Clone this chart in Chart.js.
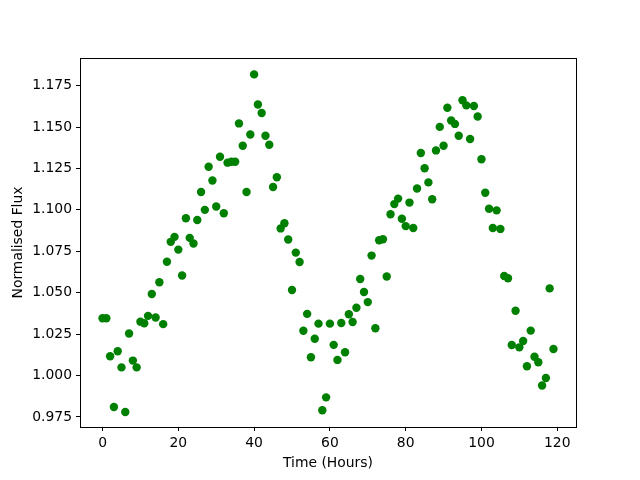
<!DOCTYPE html>
<html>
<head>
<meta charset="utf-8">
<script src="https://cdn.jsdelivr.net/npm/chart.js@4"></script>
<style>
    html, body { margin: 0; padding: 0; background: #fff; }
    #wrap { width: 640px; height: 480px; }
</style>
</head>
<body>
<div id="wrap"><canvas id="fluxChart" width="640" height="480"></canvas></div>
<script>
// Data (jam 0..119)
const hours = Array.from({ length: 120 }, (_, i) => i);
const flux = [
    1.0346, 1.0346, 1.0116, 0.9810, 1.0146, 1.0049, 0.9780, 1.0254, 1.0090, 1.0049,
    1.0325, 1.0315, 1.0360, 1.0492, 1.0350, 1.0563, 1.0310, 1.0687, 1.0807, 1.0837,
    1.0760, 1.0604, 1.0949, 1.0831, 1.0797, 1.0939, 1.1108, 1.1000, 1.1260, 1.1177,
    1.1020, 1.1321, 1.0980, 1.1285, 1.1291, 1.1291, 1.1522, 1.1387, 1.1108, 1.1455,
    1.1818, 1.1636, 1.1585, 1.1448, 1.1393, 1.1138, 1.1197, 1.0888, 1.0919, 1.0821,
    1.0516, 1.0742, 1.0685, 1.0270, 1.0372, 1.0110, 1.0222, 1.0313, 0.9790, 0.9868,
    1.0313, 1.0185, 1.0094, 1.0317, 1.0140, 1.0370, 1.0323, 1.0409, 1.0583, 1.0504,
    1.0443, 1.0724, 1.0285, 1.0817, 1.0823, 1.0598, 1.0974, 1.1035, 1.1068, 1.0946,
    1.0902, 1.1044, 1.0891, 1.1129, 1.1343, 1.1251, 1.1166, 1.1064, 1.1359, 1.1501,
    1.1387, 1.1617, 1.1540, 1.1519, 1.1448, 1.1662, 1.1631, 1.1428, 1.1627, 1.1564,
    1.1306, 1.1103, 1.1007, 1.0891, 1.0997, 1.0885, 1.0601, 1.0587, 1.0184, 1.0391,
    1.0170, 1.0208, 1.0056, 1.0271, 1.0113, 1.0080, 0.9940, 0.9985, 1.0526, 1.0160
];

// Label sumbu
const xTicks = [0, 20, 40, 60, 80, 100, 120];
const yTicks = [0.975, 1.000, 1.025, 1.050, 1.075, 1.100, 1.125, 1.150, 1.175];

const fontSpec = { family: "'DejaVu Sans', sans-serif", size: 13.9 };

// Bingkai kotak di sekeliling area plot (gaya matplotlib)
const frameBox = {
    id: "frameBox",
    afterDraw(chart) {
        const { ctx, chartArea: a } = chart;
        ctx.save();
        ctx.strokeStyle = "#000";
        ctx.lineWidth = 1;
        ctx.strokeRect(Math.round(a.left) + 0.5, Math.round(a.top) + 0.5,
            Math.round(a.right - a.left), Math.round(a.bottom - a.top));
        ctx.restore();
    }
};

const ctx = document.getElementById("fluxChart").getContext("2d");
new Chart(ctx, {
    type: "scatter",
    data: {
        datasets: [{
            label: "Flux",
            data: hours.map((h, i) => ({ x: h, y: flux[i] })),
            backgroundColor: "#008000",
            borderColor: "#008000",
            borderWidth: 0,
            pointRadius: 4.2,
        }],
    },
    options: {
        responsive: false,
        animation: false,
        layout: { padding: { top: 58, right: 64, left: 0, bottom: 0 } },
        plugins: {
            legend: { display: false },
            tooltip: { enabled: false },
        },
        scales: {
            x: {
                type: "linear",
                min: -5.95,
                max: 124.95,
                afterFit: s => { s.height = 53; },
                afterBuildTicks: s => { s.ticks = xTicks.map(v => ({ value: v })); },
                grid: { drawOnChartArea: false, drawTicks: true, tickLength: 4, color: "#000" },
                border: { display: false },
                ticks: { color: "#000", font: fontSpec, padding: 4, maxRotation: 0 },
                title: { display: true, text: "Time (Hours)", color: "#000", font: fontSpec, padding: { top: 2, bottom: 8 } },
            },
            y: {
                type: "linear",
                min: 0.9689,
                max: 1.1917,
                afterFit: s => { s.width = 80; },
                afterBuildTicks: s => { s.ticks = yTicks.map(v => ({ value: v })); },
                grid: { drawOnChartArea: false, drawTicks: true, tickLength: 4, color: "#000" },
                border: { display: false },
                ticks: { color: "#000", font: fontSpec, padding: 4, callback: v => Number(v).toFixed(3) },
                title: { display: true, text: "Normalised Flux", color: "#000", font: fontSpec, padding: { top: 10, bottom: 4 } },
            },
        },
    },
    plugins: [frameBox],
});
</script>
</body>
</html>
